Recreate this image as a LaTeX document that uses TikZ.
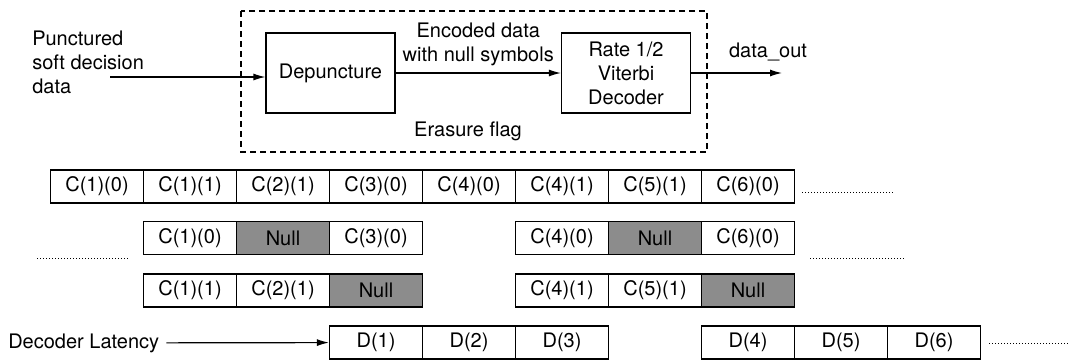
\documentclass[tikz,border=0pt]{standalone}
\usepackage{fontspec}
\setmainfont{TeX Gyre Heros}
\usetikzlibrary{arrows.meta}
\definecolor{nullgray}{RGB}{140,140,140}
\tikzset{
  blk/.style={draw, minimum width=64.5pt, minimum height=40pt, align=center},
  cell/.style={draw, minimum width=46.5pt, minimum height=16.5pt, inner sep=0pt},
  nullcell/.style={cell, fill=nullgray},
  more/.style={densely dotted, line width=0.5pt},
}
\begin{document}
\begin{tikzpicture}[x=0.5pt, y=-0.5pt, line width=0.6pt,
  >={Latex[length=6pt,width=3.5pt]}]
\useasboundingbox (0,0) rectangle (1068,360);
\draw[dash pattern=on 3pt off 2pt] (241,11) rectangle (707,152);
\node[blk] (dep) at (330.5,73) {Depuncture};
\node[blk] (vit) at (626,73) {Rate 1/2\\Viterbi\\Decoder};
\node[align=left, anchor=west] (in) at (25,62)
 {Punctured\\soft decision\\data};
\coordinate (src) at (110,77);
\draw[->] (src) -- (src -| dep.west);
\draw[->] (dep) -- node[above, align=center] (enc)
 {Encoded data\\with null symbols} (vit);
\coordinate (out) at (782,73);
\draw[->] (vit) -- (out);
\node (dout) at (768,52) {data\_out};
\node (era) at (468,131) {Erasure flag};
\foreach \i/\t in {0/C(1)(0), 1/C(1)(1), 2/C(2)(1), 3/C(3)(0),
  4/C(4)(0), 5/C(4)(1), 6/C(5)(1), 7/C(6)(0)}
\node[cell] (a\i) at ({97+93*\i},186.5) {\t};
\foreach \i/\t/\s in {1/C(1)(0)/cell, 2/Null/nullcell, 3/C(3)(0)/cell,
  5/C(4)(0)/cell, 6/Null/nullcell, 7/C(6)(0)/cell}
\node[\s] (b\i) at ({97+93*\i},238) {\t};
\foreach \i/\t/\s in {1/C(1)(1)/cell, 2/C(2)(1)/cell, 3/Null/nullcell,
  5/C(4)(1)/cell, 6/C(5)(1)/cell, 7/Null/nullcell}
\node[\s] (c\i) at ({97+93*\i},290.5) {\t};
\foreach \i/\t in {3/D(1), 4/D(2), 5/D(3), 7/D(4), 8/D(5), 9/D(6)}
\node[cell] (d\i) at ({97+93*\i},342.5) {\t};
\node[anchor=west] (lat) at (1,343) {Decoder Latency};
\draw[->] (lat) -- (d3);
\draw[more] (802,192) -- (895,192) (37,258) -- (130,258)
 (810,258) -- (905,258) (989,343) -- (1068,343);
\end{tikzpicture}
\end{document}
